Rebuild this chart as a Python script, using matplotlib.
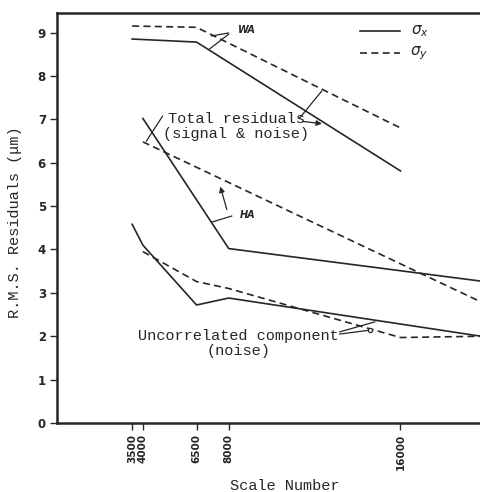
import matplotlib
matplotlib.use("Agg")
import matplotlib.pyplot as plt
from matplotlib.lines import Line2D

# ---- data ----
xticks = [3500, 4000, 6500, 8000, 16000]
xticklabels = ["3500", "4000", "6500", "8000", "16000"]
yticks = list(range(10))

# Total residuals (upper pair, "WA")
tot_wa_x_sx = [3500, 6500, 16000]
tot_wa_sx = [8.85, 8.78, 5.81]
tot_wa_x_sy = [3500, 6500, 16000]
tot_wa_sy = [9.15, 9.12, 6.80]

# Total residuals ("HA")
tot_ha_x_sx = [4000, 8000, 19750]
tot_ha_sx = [7.02, 4.02, 3.27]
tot_ha_x_sy = [4000, 19750]
tot_ha_sy = [6.48, 2.79]

# Uncorrelated component (noise)
unc_x_sx = [3500, 4000, 6500, 8000, 19750]
unc_sx = [4.58, 4.10, 2.72, 2.88, 2.00]
unc_x_sy = [4000, 6500, 8000, 16000, 19750]
unc_sy = [3.95, 3.26, 3.10, 1.97, 2.00]

INK = "#262626"
dash = (0, (4.2, 2.6))
mono = "Liberation Mono"

fig = plt.figure(figsize=(4.81, 4.92), dpi=100)
ax = fig.add_axes([57/481, 1-423/492, 424/481, 410/492])
ax.set_xlim(0, 19750)
ax.set_ylim(0, 9.45)

lw = 1.2
ax.plot(tot_wa_x_sx, tot_wa_sx, color=INK, lw=lw)
ax.plot(tot_wa_x_sy, tot_wa_sy, color=INK, lw=lw, ls=dash)
ax.plot(tot_ha_x_sx, tot_ha_sx, color=INK, lw=lw, clip_on=False)
ax.plot(tot_ha_x_sy, tot_ha_sy, color=INK, lw=lw, ls=dash, clip_on=False)
ax.plot(unc_x_sx, unc_sx, color=INK, lw=lw, clip_on=False)
ax.plot(unc_x_sy, unc_sy, color=INK, lw=lw, ls=dash, clip_on=False)

# spines
for s in ["left", "bottom", "top"]:
    ax.spines[s].set_linewidth(1.8)
    ax.spines[s].set_color(INK)
ax.spines["right"].set_visible(False)

ax.set_xticks(xticks)
ax.set_xticklabels(xticklabels, rotation=90, fontsize=7.5, fontweight="bold", color=INK)
ax.set_yticks(yticks)
ax.set_yticklabels([str(v) for v in yticks], fontsize=8.5, fontweight="bold", color=INK)
ax.tick_params(axis="both", direction="out", length=5, width=1.0, color=INK, pad=3)

ax.set_ylabel("R.M.S. Residuals (\u03bcm)", family=mono, fontsize=11, color=INK)
ax.yaxis.set_label_coords(-0.083, 0.49)
ax.set_xlabel("Scale Number", family=mono, fontsize=11, color=INK)
ax.xaxis.set_label_coords(0.538, -0.137)

# annotations
ax.text(8350, 6.83, "Total residuals\n(signal & noise)", family=mono, fontsize=11,
        ha="center", va="center", linespacing=1.05, color=INK)
ax.text(8458, 1.83, "Uncorrelated component\n(noise)", family=mono, fontsize=11,
        ha="center", va="center", linespacing=1.05, color=INK, multialignment="center")

lk = dict(color=INK, lw=0.9)
ax.plot([11303, 12329], [7.03, 7.65], **lk)
ax.annotate("", xy=(12469, 6.89), xytext=(11303, 6.96),
            arrowprops=dict(arrowstyle="-|>", color=INK, lw=0.9, mutation_scale=8))
ax.plot([4913, 4167], [7.07, 6.50], **lk)

ax.text(8513, 4.79, "HA", fontsize=7, style="italic", fontweight="bold", color=INK,
        ha="left", va="center")
ax.plot([8138, 7205], [4.77, 4.63], **lk)
ax.annotate("", xy=(7572, 5.51), xytext=(7945, 4.86),
            arrowprops=dict(arrowstyle="-|>", color=INK, lw=0.9, mutation_scale=8))

ax.text(8411, 9.06, "WA", fontsize=7, style="italic", fontweight="bold", color=INK,
        ha="left", va="center")
ax.plot([7991, 7198], [8.99, 8.92], **lk)
ax.plot([7991, 7105], [8.96, 8.62], **lk)

ax.plot([13170, 14801], [2.10, 2.33], **lk)
ax.plot([13170, 14568], [2.05, 2.14], **lk)
ax.plot([14568], [2.14], marker="o", ms=3, mfc="white", mec=INK, mew=0.9)

# legend drawn by hand
ax.add_line(Line2D([0.715, 0.809], [0.956, 0.956], transform=ax.transAxes, color=INK, lw=lw))
ax.add_line(Line2D([0.715, 0.809], [0.902, 0.902], transform=ax.transAxes, color=INK, lw=lw, ls=dash))
ax.text(0.835, 0.956, r"$\sigma_x$", transform=ax.transAxes, fontsize=11, va="center", color=INK)
ax.text(0.833, 0.902, r"$\sigma_y$", transform=ax.transAxes, fontsize=11, va="center", color=INK)

fig.savefig("out.png", dpi=100)
